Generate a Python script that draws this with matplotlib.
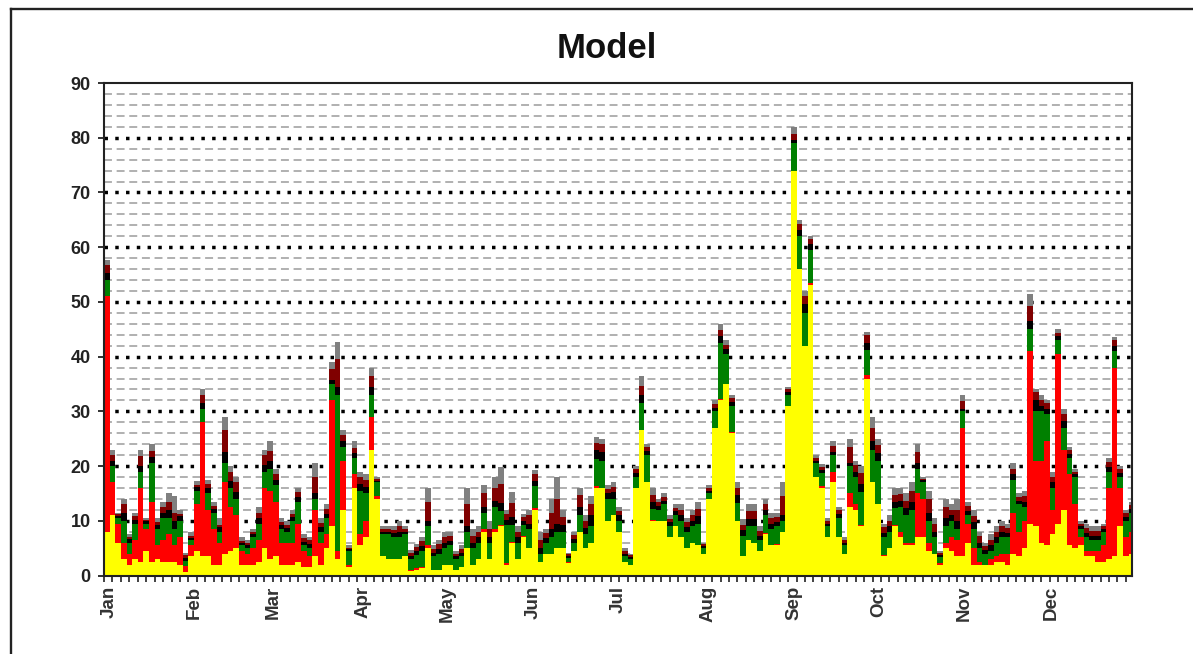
import numpy as np
import matplotlib
matplotlib.use("Agg")
import matplotlib.pyplot as plt
from matplotlib.lines import Line2D

plt.rcParams['font.family'] = ['Liberation Sans', 'DejaVu Sans']

months = ['Jan','Feb','Mar','Apr','May','Jun','Jul','Aug','Sep','Oct','Nov','Dec']
month_pos = [2,32.2,60.3,91.9,122.1,152.6,182.8,214.4,245,275.2,305.7,336.6]

# values read per two-day period, from the bottom of each stack upward
yellow = [8,11,6,3,2,3,2.5,4.5,2.5,3,
 2.5,2.5,2.5,2,.7,3.5,4.5,3.5,3.5,2,
 2,4,4.5,5,2,2,2,2.5,5,3,
 3.5,2,2,2,2.5,1.5,1.5,3.5,2,5,
 9,3,12,1.5,16,5.5,7,23,14,3.5,
 3,3,3,3.5,.8,1,1.3,5,1,1,
 2,2,1,1.5,5,2,3,8,3,8,
 9,2,6,3,7,5,12,2.5,4,4,
 5,5,2.3,4.5,8,5,6,16,16,10,
 11,8,2.5,2,16,26.5,17,10,10,10,
 7,9,7,5,6,5.5,4,14,27,32,
 35,26,10,3.6,6.5,6,4.5,7.5,5.5,5.5,
 8,31,74,56,42,53,18,16,7,17,
 7,4,12.5,12,9,36,17,13,3.5,5,
 9,7,5.5,5.5,7,7,4.5,4,2,5,
 4.5,3.5,3.5,6,2,2,2,2,2.5,2.5,
 2,4,3.5,5,9.5,9,6,5.5,7.5,9.5,
 12,5.5,5,5.5,3.5,3.5,2.5,2.5,3,3.5,
 9,3.5,4]
red = [43,6,3.5,3,2,3.5,13.5,4,11,2.5,
 4,5,3,5,1,2,8.5,24.5,8.5,6.5,
 4,13,8,6,2.5,2,3,4,11,12.5,
 10,4,4,4,7,3,2,8.5,4,2.5,
 23,1.5,9,.5,2.5,2,3,6,.5,0,
 0,0,0,0,.2,.3,.2,.5,0,0,
 0,0,0,0,0,0,0,.5,0,.5,
 .3,.2,.2,0,.3,0,.3,0,0,0,
 0,0,.2,0,0,0,0,.3,0,0,
 0,0,0,0,0,0,0,.2,0,0,
 0,0,0,0,0,0,0,0,0,.2,
 0,.2,0,0,0,0,0,.2,0,.2,
 0,0,0,0,0,.5,0,.3,0,2,
 0,0,2.5,1,.3,.7,0,0,.3,0,
 .3,1,.5,.5,8,7,1.5,0,.3,1,
 2.5,3,23.5,3.5,3,.5,0,1,1,1.5,
 2,7.5,4.5,5,31.5,12,15,19,4.5,31,
 11,13,8,1.5,1,1,2,3,13,34.5,
 7,3.5,4]
green = [3,3,1,4,2,3,3,1,7,3,
 4,3,3,3,1,1,2.5,2.5,3,3,
 2,3.5,3.5,3,1,1,2,3,3,4,
 3,2.5,2,4,4,1,1.5,2,2,3,
 3,28.5,2.5,2.5,3,8,5,4,2.5,4,
 4.5,4,4,4,2,2.5,3,3.5,2.5,3,
 3,3.5,2,2,3,3,3,3,3,4,
 2.5,7,3,3,2,3.5,4,1.5,2,3,
 3,3,.7,1.5,3,2.5,3,5,5,4,
 3,2,1,1,2,5,5,2,2,3,
 2,2,3,3,3,4,1,1,3,10.3,
 5.5,4.8,3.3,3.7,2.5,3,2,3.3,3,3.3,
 2,2,5,6,6,6,2.5,2.5,2,3,
 3.5,1.5,5,5,6,4.5,6,8,3.2,3,
 3,4.5,5,6,4.5,3,4,3,1,3,
 3,2,3,1.5,3.5,2.5,2,1.5,2.5,3,
 3,6,5,2.5,4,9,9,5,4,2.5,
 4,3,5,1.5,2.5,2,2,2.5,3,3,
 2,3,3.5]
black = [1.2,1,.3,1.5,.7,.7,1,.4,1.2,.8,
 1,1.5,1.5,.8,.5,.4,.6,1,1,.7,
 .8,2,1.2,1.2,.5,.5,.5,1,1.2,1.5,
 1,.8,.7,.7,.8,.7,.8,1,.8,.8,
 .8,1.5,1,.3,.8,1.2,1.2,1.5,.3,.5,
 .5,.7,1,.5,.6,.7,.9,1,.7,.9,
 1,.8,.5,.7,1,1,1,1,1,1.2,
 1.5,1,1.5,1,.7,1,1,1,.8,1.5,
 1.5,1.2,.3,.7,1.5,1.2,2,1.7,1.5,1,
 1.2,1,.5,.4,.7,1.5,.8,1.3,.7,.7,
 .7,.7,1,.8,1,1.3,.3,.5,.7,1.2,
 .8,.7,1.5,1,1.3,1.3,.8,1,1,.8,
 1,.5,.6,1.2,1.6,1,.5,.5,.5,.5,
 .7,.5,.5,1,1.5,1.3,1.5,1.3,.8,1,
 1.2,1.2,1.3,1.5,1,.4,1.5,1,.4,1.5,
 1,1.5,.5,.8,1.2,1,.6,1,1,1,
 .8,1,.7,1,1.5,2,1,1,1,.7,
 1.2,.7,.5,.5,.8,.8,.8,.5,.8,1,
 .7,.7,.7]
maroon = [1.6,1,.4,1.5,.4,.7,1.8,.3,1,.5,
 1,1.5,1.5,.5,.6,.4,.5,1.5,.7,.5,
 .5,4,1.8,1.8,.3,.4,.4,1,1.8,1.8,
 1,.5,.6,.5,1,.7,.6,3,.8,.9,
 2,5,1.2,.3,1,1.3,1.2,2,.4,.5,
 .5,.7,1,.5,.6,.7,.9,3.5,.7,.8,
 1,.9,.5,.6,4,1.2,1,2.5,1.5,2.3,
 3.5,1,2.5,1,.7,1.5,1.2,1.5,.9,3,
 4.5,1.5,.4,.7,2.3,1.2,2,1.3,1.5,.8,
 1,.8,.5,.3,.7,1.7,.6,1.3,.7,.7,
 .7,.7,1,.9,1,1.4,.4,.5,.7,1.2,
 .9,.7,1.2,1,1.4,1.5,.9,1,1,.9,
 3.5,.5,1,1,1.4,1,.5,.5,.5,1.2,
 .7,.5,3,1.2,2,1.4,2.5,1.5,1,1,
 1.3,1.2,1.4,2,2,.3,2.5,1.5,.4,2,
 1,2,1.3,.9,1.2,1.2,.7,1,1,1,
 .9,1,.7,1,2.7,1.5,1,1,1,.7,
 1.3,.7,.5,.5,.9,.9,.9,.5,.9,1,
 .7,.7,.7]
gray = [.8,1,.3,1,.4,.6,1.2,.3,1.3,.7,
 1,1.5,3,.7,.4,.7,.6,1,.8,.8,
 1.2,2.5,1,1,.7,.6,.6,1,1,1.7,
 1,.7,.7,.8,.7,.6,.6,2.5,.9,.8,
 1.2,3.2,.8,.4,1.2,1,1.1,1.5,.3,.5,
 .5,.6,1,.5,.5,.6,.7,2.5,.6,.8,
 1,.8,.5,.7,3,1.3,1,1.5,1.5,2,
 3,.8,2,1,.6,1,.8,1.5,.8,2.5,
 4,1.3,.3,.6,1.2,1.1,1.5,1,1,.7,
 .8,.7,.5,.3,.6,1.8,.6,1.2,.6,.6,
 .6,.6,1,.8,1,1.3,.3,.5,.6,1.1,
 .8,.6,1,1,1.3,1.2,.8,1,1,.8,
 2.5,.5,1.4,.8,1,.5,.5,.5,.5,.8,
 .6,.5,1.5,.8,1.2,.6,2,1.2,.7,1,
 1.2,1.1,1.3,1.5,1.5,.3,1.5,1,.4,1.5,
 1,2,1.2,.8,1.1,.8,.7,1,1,1,
 .8,1,.6,1,2.3,.5,1,.5,1,.6,
 1,.6,.5,.5,.8,.8,.8,.5,.8,.5,
 .6,.6,.6]

series = [(yellow,'#FFFF00'),(red,'#FF0000'),(green,'#008000'),
          (black,'#000000'),(maroon,'#800000'),(gray,'#808080')]

W, H = 1193, 654
L, R, T, B = 104, 1131.5, 83, 575.5
fig = plt.figure(figsize=(W/100, H/100), dpi=100, facecolor='white')
ax = fig.add_axes([L/W, 1-B/H, (R-L)/W, (B-T)/H])

days = np.arange(len(yellow))*2
bottom = np.zeros(len(days))
for vals, col in series:
    v = np.array(vals, dtype=float)
    ax.bar(days, v, width=2, bottom=bottom, align='edge', color=col, linewidth=0, zorder=3)
    bottom += v

ax.set_xlim(0, 365)
ax.set_ylim(0, 90)
ax.set_axisbelow(True)

ax.set_yticks(np.arange(0, 91, 10))
ax.set_yticks(np.arange(0, 91, 2), minor=True)
ax.tick_params(axis='y', which='major', length=4.5, width=1.3, labelsize=13, pad=5, colors='#222222')
ax.tick_params(axis='y', which='minor', length=0)
for lab in ax.get_yticklabels():
    lab.set_fontweight('bold')

ax.set_xticks(month_pos)
ax.set_xticklabels(months, rotation=90, fontsize=13.5, fontweight='bold', color='#333333')
ax.set_xticks(np.arange(0, 366, 3), minor=True)
ax.tick_params(axis='x', which='major', length=0, pad=7.5)
ax.tick_params(axis='x', which='minor', length=4.5, width=1.2, color='#222222')

for y in np.arange(2, 90, 2):
    if y % 10 == 0:
        ax.axhline(y, color='black', lw=2.5, ls=(0, (1.0, 2.1)), zorder=2)
    else:
        ax.axhline(y, color='#aaaaaa', lw=1.3, ls=(0, (4.4, 2.6)), zorder=1)

for s in ax.spines.values():
    s.set_linewidth(1.5)
    s.set_color('#222222')
    s.set_zorder(5)

fig.text(607/W, 1-48.5/H, 'Model', fontsize=25, fontweight='bold', ha='center', va='center', color='#111111')

fig.add_artist(Line2D([10.5/W, 10.5/W], [0, 1-9/H], color='#222222', lw=1.7))
fig.add_artist(Line2D([10.5/W, 1], [1-9/H, 1-9/H], color='#222222', lw=1.7))

fig.savefig('out.png', dpi=100, facecolor='white')
